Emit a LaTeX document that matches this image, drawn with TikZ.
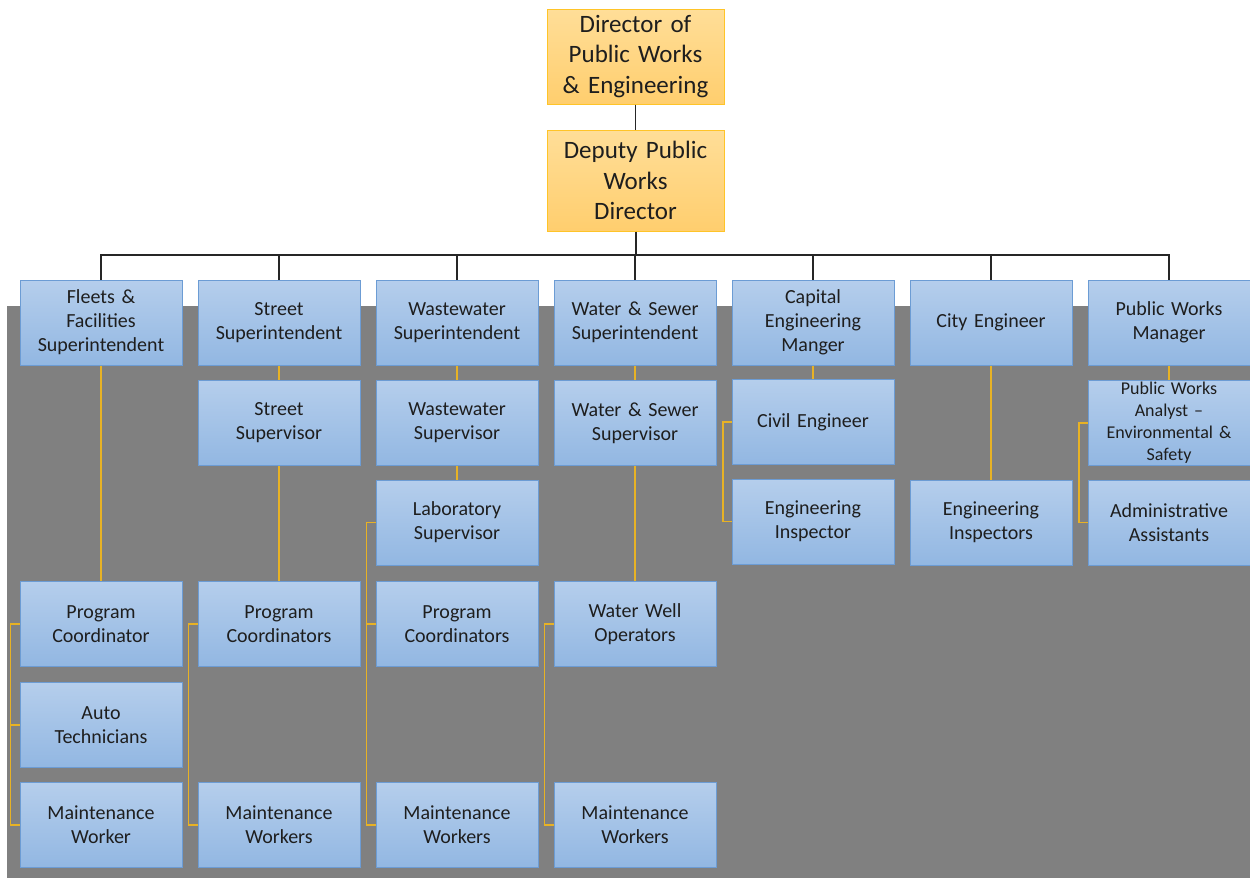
\documentclass[tikz,border=0pt]{standalone}
\usepackage{fontspec}
\setmainfont{Carlito}
\usetikzlibrary{calc}
\definecolor{gbg}{RGB}{128,128,128}
\definecolor{btop}{RGB}{181,206,236}
\definecolor{bbot}{RGB}{146,183,226}
\definecolor{bdraw}{RGB}{108,156,212}
\definecolor{otop}{RGB}{255,222,152}
\definecolor{obot}{RGB}{255,206,110}
\definecolor{odraw}{RGB}{255,196,40}
\definecolor{goldln}{RGB}{232,178,36}
\definecolor{txt}{RGB}{30,30,30}
\tikzset{
  bluebox/.style={draw=bdraw, line width=1pt, top color=btop, bottom color=bbot,
    minimum width=162pt, minimum height=85pt, inner sep=0pt, text width=156pt,
    align=center, text=txt, font=\fontsize{20}{24}\selectfont},
  orangebox/.style={draw=odraw, line width=1pt, top color=otop, bottom color=obot,
    minimum width=177pt, inner sep=0pt, text width=170pt,
    align=center, text=txt, font=\fontsize{25}{30.5}\selectfont},
  blk/.style={draw=black!85, line width=1.2pt},
  gld/.style={draw=goldln, line width=1.4pt},
}
\begin{document}
\begin{tikzpicture}[x=1pt,y=-1pt]
\useasboundingbox (0,0) rectangle (1250,878);
\fill[white] (0,0) rectangle (1250,878);
\fill[gbg] (7,306) rectangle (1250,878);
% top
\node[orangebox, minimum height=95pt] (dir) at (635.5,56.5) {Director of\\Public Works\\\& Engineering};
\node[orangebox, minimum height=101pt] (dep) at (635.5,180.5) {Deputy Public\\Works\\Director};
\coordinate (bus) at (635.5,255);
% row 1
\node[bluebox] (fl) at (101,322.5) {Fleets \&\\Facilities\\Superintendent};
\node[bluebox] (st) at (279,322.5) {Street\\Superintendent};
\node[bluebox] (ww) at (457,322.5) {Wastewater\\Superintendent};
\node[bluebox] (ws) at (635,322.5) {Water \& Sewer\\Superintendent};
\node[bluebox] (ce) at (813,322.5) {Capital\\Engineering\\Manger};
\node[bluebox] (cy) at (991,322.5) {City Engineer};
\node[bluebox] (pw) at (1169,322.5) {Public Works\\Manager};
% row 2
\node[bluebox] (sts) at (279,423) {Street\\Supervisor};
\node[bluebox] (wws) at (457,423) {Wastewater\\Supervisor};
\node[bluebox] (wss) at (635,423) {Water \& Sewer\\Supervisor};
\node[bluebox] (civ) at (813,422) {Civil Engineer};
\node[bluebox, font=\fontsize{18}{22}\selectfont] (pwa) at (1169,423) {Public Works\\Analyst --\\Environmental \&\\Safety};
% row 3
\node[bluebox] (lab) at (457,522.5) {Laboratory\\Supervisor};
\node[bluebox] (ei) at (813,521.5) {Engineering\\Inspector};
\node[bluebox] (eis) at (991,522.5) {Engineering\\Inspectors};
\node[bluebox] (adm) at (1169,522.5) {Administrative\\Assistants};
% row 4
\node[bluebox] (pc1) at (101,624) {Program\\Coordinator};
\node[bluebox] (pc2) at (279,624) {Program\\Coordinators};
\node[bluebox] (pc3) at (457,624) {Program\\Coordinators};
\node[bluebox] (wwo) at (635,624) {Water Well\\Operators};
% row 5
\node[bluebox] (at) at (101,725) {Auto\\Technicians};
% row 6
\node[bluebox] (mw1) at (101,825) {Maintenance\\Worker};
\node[bluebox] (mw2) at (279,825) {Maintenance\\Workers};
\node[bluebox] (mw3) at (457,825) {Maintenance\\Workers};
\node[bluebox] (mw4) at (635,825) {Maintenance\\Workers};
% black connectors
\draw[blk] (dir.south) -- (dep.north);
\draw[blk, line width=2pt] (dep.south) -- (bus);
\foreach \n in {fl,st,ww,ws,ce,cy,pw} { \draw[blk] (bus) -| (\n.north); }
% gold verticals
\draw[gld] (fl.south) -- (pc1.north);
\draw[gld] (st.south) -- (sts.north);
\draw[gld] (sts.south) -- (pc2.north);
\draw[gld] (ww.south) -- (wws.north);
\draw[gld] (wws.south) -- (lab.north);
\draw[gld] (ws.south) -- (wss.north);
\draw[gld] (wss.south) -- (wwo.north);
\draw[gld] (ce.south) -- (civ.north);
\draw[gld] (cy.south) -- (eis.north);
\draw[gld] (pw.south) -- (pwa.north);
% gold brackets
\draw[gld] (pc1.west) -- ++(-9,0) |- (mw1.west);
\draw[gld] (at.west) -- ++(-9,0);
\draw[gld] (pc2.west) -- ++(-9,0) |- (mw2.west);
\draw[gld] (lab.west) -- ++(-9,0) |- (mw3.west);
\draw[gld] (pc3.west) -- ++(-9,0);
\draw[gld] (wwo.west) -- ++(-9,0) |- (mw4.west);
\draw[gld] (civ.west) -- ++(-8.5,0) |- (ei.west);
\draw[gld] (pwa.west) -- ++(-8.5,0) |- (adm.west);
\end{tikzpicture}
\end{document}
